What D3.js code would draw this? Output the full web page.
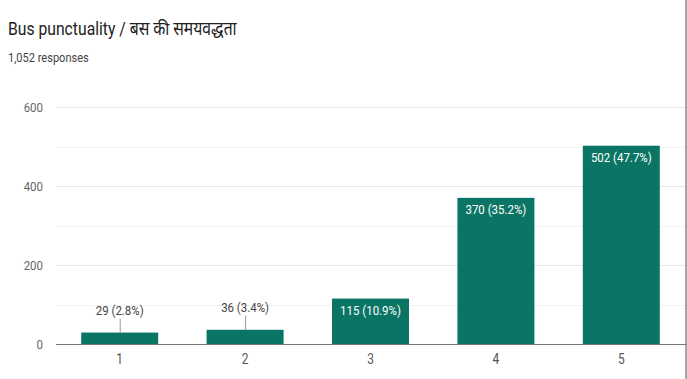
<!DOCTYPE html>
<html><head><meta charset="utf-8">
<script src="https://cdn.jsdelivr.net/npm/d3@7"></script>
<style>
html,body{margin:0;padding:0;background:#fff;}
svg{display:block;font-family:Roboto,"Noto Sans",sans-serif;}
</style></head>
<body><svg id="c" width="687" height="379"></svg>
<script>
const categories = ["1","2","3","4","5"];
const counts = [29, 36, 115, 370, 502];
const percents = ["2.8%","3.4%","10.9%","35.2%","47.7%"];
const yTicks = [0,200,400,600];
const yMinor = [100,300,500];
const title = "Bus punctuality / बस की समयवद्धता";
const subtitle = "1,052 responses";

const svg = d3.select("#c");
const W = 687, H = 379;
const SX = 0.85; // horizontal squeeze of the reference text
const x = d3.scaleBand().domain(categories).range([57, 684]).paddingInner(0.386).paddingOuter(0.193);
const y = d3.scaleLinear().domain([0,600]).range([344,107]);

function txt(g, px, py, s){
  return g.append("text").attr("transform",`translate(${px},${py}) scale(${SX},1)`).text(s);
}

txt(svg, 8, 35, title).attr("font-size",18.5).attr("fill","#212121");
txt(svg, 8, 61.5, subtitle).attr("font-size",13).attr("fill","#444");

// gridlines
svg.append("g").selectAll("line").data(yMinor).join("line")
  .attr("x1",56).attr("x2",687).attr("y1",d=>Math.round(y(d))+0.5).attr("y2",d=>Math.round(y(d))+0.5)
  .attr("stroke","#f2f2f2");
svg.append("g").selectAll("line").data(yTicks.filter(d=>d>0)).join("line")
  .attr("x1",56).attr("x2",687).attr("y1",d=>Math.round(y(d))+0.5).attr("y2",d=>Math.round(y(d))+0.5)
  .attr("stroke","#e6e6e6");

// y labels
const gy = svg.append("g");
yTicks.forEach(d=>{
  txt(gy, 43, y(d)+5, d).attr("text-anchor","end").attr("font-size",13.5).attr("fill","#666");
});

// bars
const data = categories.map((c,i)=>({c, v:counts[i], p:percents[i]}));
svg.append("g").selectAll("rect").data(data).join("rect")
  .attr("x",d=>x(d.c)).attr("width",x.bandwidth())
  .attr("y",d=>y(d.v)).attr("height",d=>y(0)-y(d.v))
  .attr("fill","#0b7565");

// axis line
svg.append("line").attr("x1",56).attr("x2",687).attr("y1",344.5).attr("y2",344.5).attr("stroke","#777").attr("stroke-width",1);

// right border
svg.append("line").attr("x1",686).attr("x2",686).attr("y1",0).attr("y2",H).attr("stroke","#888").attr("stroke-width",1.5);

// x labels
const gx = svg.append("g");
categories.forEach(d=>{
  txt(gx, x(d)+x.bandwidth()/2, 364, d).attr("text-anchor","middle").attr("font-size",14).attr("fill","#555");
});

// value labels
const lab = svg.append("g");
data.forEach(d=>{
  const cx = x(d.c)+x.bandwidth()/2;
  const top = y(d.v);
  const inside = (y(0)-top) > 25;
  if(inside){
    txt(lab, cx, top+16.5, `${d.v} (${d.p})`).attr("text-anchor","middle")
      .attr("font-size",13.5).attr("fill","#fff");
  } else {
    lab.append("line").attr("x1",cx+0.5).attr("x2",cx+0.5).attr("y1",top).attr("y2",top-14)
      .attr("stroke","#999").attr("stroke-width",1);
    txt(lab, cx, top-17.5, `${d.v} (${d.p})`).attr("text-anchor","middle")
      .attr("font-size",13.5).attr("fill","#444");
  }
});
</script></body></html>
